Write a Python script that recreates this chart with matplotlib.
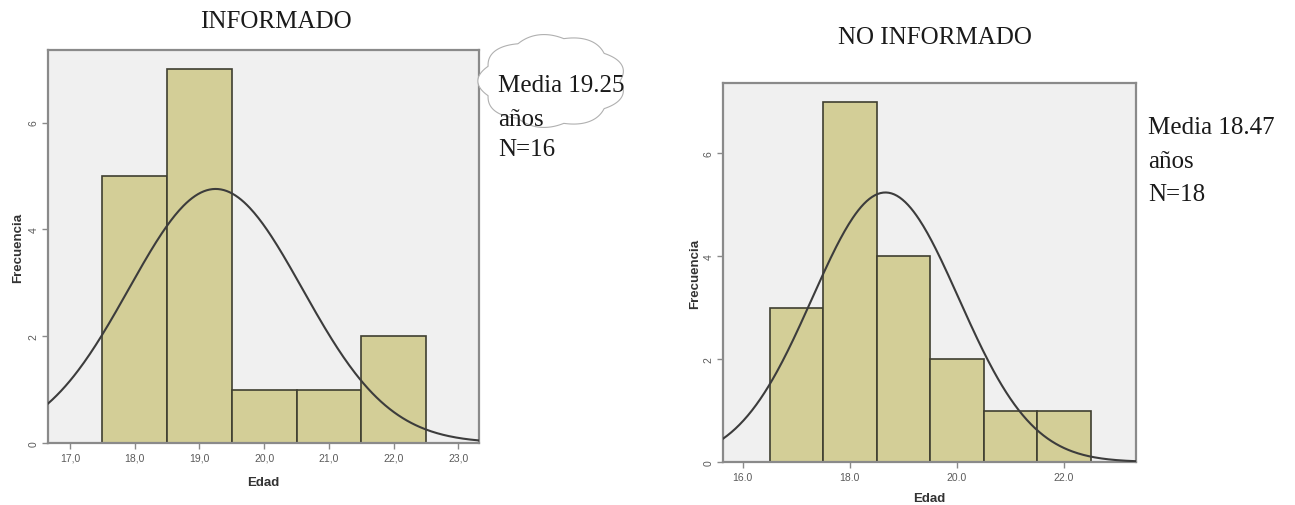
import matplotlib
matplotlib.use('Agg')
import matplotlib.pyplot as plt
import numpy as np

# INFORMADO
edad_inf = [18, 19, 20, 21, 22]
frec_inf = [5, 7, 1, 1, 2]
ticks_inf = [17, 18, 19, 20, 21, 22, 23]
ticklabels_inf = ['17,0', '18,0', '19,0', '20,0', '21,0', '22,0', '23,0']
nota_inf = ['Media 19.25', 'años', 'N=16']

# NO INFORMADO
edad_no = [17, 18, 19, 20, 21, 22]
frec_no = [3, 7, 4, 2, 1, 1]
ticks_no = [16, 18, 20, 22]
ticklabels_no = ['16.0', '18.0', '20.0', '22.0']
nota_no = ['Media 18.47', 'años', 'N=18']

bar_color = '#d3ce97'
edge_color = '#3f3f30'
bg_color = '#f0f0f0'
frame_color = '#8a8a8a'
serif = 'Liberation Serif'
sans = 'Liberation Sans'

fig = plt.figure(figsize=(12.95, 5.06), dpi=100)


def draw_hist(ax, edad, frec, ticks, ticklabels, xlim):
    edad = np.array(edad, dtype=float)
    frec = np.array(frec, dtype=float)
    ax.set_facecolor(bg_color)
    ax.bar(edad, frec, width=1.0, color=bar_color, edgecolor=edge_color,
           linewidth=1.2, zorder=2)
    # normal curve fitted to the histogram (SPSS style)
    n = frec.sum()
    media = (edad * frec).sum() / n
    sd = np.sqrt((frec * (edad - media) ** 2).sum() / (n - 1))
    xs = np.linspace(xlim[0], xlim[1], 300)
    ys = n / (sd * np.sqrt(2 * np.pi)) * np.exp(-0.5 * ((xs - media) / sd) ** 2)
    ax.plot(xs, ys, color='#3c3c3c', linewidth=1.5, zorder=3)
    ax.set_xlim(*xlim)
    ax.set_ylim(0, 7.36)
    ax.set_xticks(ticks)
    ax.set_xticklabels(ticklabels, fontsize=7.5, color='#5a5a5a', family=sans)
    ax.set_yticks([0, 2, 4, 6])
    ax.set_yticklabels(['0', '2', '4', '6'], fontsize=7.5, color='#5a5a5a',
                       family=sans, rotation=90, va='center')
    ax.tick_params(length=4, width=1, color=frame_color, pad=3)
    for s in ax.spines.values():
        s.set_color(frame_color)
        s.set_linewidth(1.6)
    ax.set_xlabel('Edad', fontsize=9.5, fontweight='bold', color='#333333', family=sans)
    ax.set_ylabel('Frecuencia', fontsize=9.5, fontweight='bold', color='#333333', family=sans)


W, H = 1295.0, 506.0

# left panel
ax1 = fig.add_axes([48 / W, 1 - 444 / H, (479 - 48) / W, (444 - 51) / H])
draw_hist(ax1, edad_inf, frec_inf, ticks_inf, ticklabels_inf, (16.66, 23.32))
ax1.xaxis.set_label_coords(0.5, -(477 - 444) / 393)
ax1.yaxis.set_label_coords(-(48 - 24) / 431, 0.5)

# right panel
ax2 = fig.add_axes([723 / W, 1 - 463 / H, (1136 - 723) / W, (463 - 84) / H])
draw_hist(ax2, edad_no, frec_no, ticks_no, ticklabels_no, (15.63, 23.35))
ax2.xaxis.set_label_coords(0.5, -(493 - 463) / 379)
ax2.yaxis.set_label_coords(-(723 - 701) / 413, 0.5)

# titles
fig.text(276 / W, 1 - 22 / H, 'INFORMADO', family=serif, fontsize=18,
         ha='center', va='center', color='#1a1a1a')
fig.text(935 / W, 1 - 38 / H, 'NO INFORMADO', family=serif, fontsize=18,
         ha='center', va='center', color='#1a1a1a')

# cloud callout behind the left note
t = np.linspace(0, 2 * np.pi, 600)
bumps = 1 + 0.09 * np.abs(np.sin(4.5 * t))
cx, cy, rx, ry = 552, 82, 68, 43
px = (cx + rx * bumps * np.cos(t)) / W
py = 1 - (cy + ry * bumps * np.sin(t)) / H
fig.patches.append(plt.Polygon(np.column_stack([px, py]), closed=True,
                               transform=fig.transFigure, facecolor='white',
                               edgecolor='#b0b0b0', linewidth=0.8))

for i, line in enumerate(nota_inf):
    fig.text(498 / W, 1 - [86, 120, 150][i] / H, line, family=serif,
             fontsize=18, ha='left', va='center', color='#1a1a1a')
for i, line in enumerate(nota_no):
    fig.text(1148 / W, 1 - [128, 162, 195][i] / H, line, family=serif,
             fontsize=18, ha='left', va='center', color='#1a1a1a')

fig.savefig('out.png', dpi=100)
